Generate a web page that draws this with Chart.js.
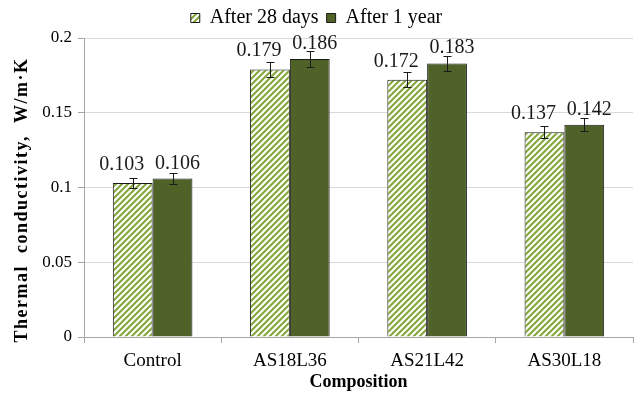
<!DOCTYPE html>
<html lang="en">
<head>
  <meta charset="UTF-8" />
  <title>Thermal conductivity</title>
  <style>
    * { box-sizing: border-box; margin: 0; padding: 0; }
    body { background: #fff; }
    #wrap { width: 636px; height: 395px; position: relative; }
  </style>
</head>
<body>
  <div id="wrap"><canvas id="tcChart"></canvas></div>

  <script src="https://cdn.jsdelivr.net/npm/chart.js"></script>
  <script>
    const categories = ['Control', 'AS18L36', 'AS21L42', 'AS30L18'];
    const after28 = [0.103, 0.179, 0.172, 0.137];
    const after1y = [0.106, 0.186, 0.183, 0.142];
    const err28 = [0.0035, 0.005, 0.005, 0.004];
    const err1y = [0.0035, 0.0055, 0.005, 0.0045];
    const yTitle = 'Thermal  conductivity,  W/m\u00b7K';

    const serif = "'Times New Roman', 'Liberation Serif', Times, serif";

    // light green diagonal hatch on white
    function hatch() {
      const c = document.createElement('canvas');
      c.width = 6; c.height = 6;
      const g = c.getContext('2d');
      g.fillStyle = '#fff';
      g.fillRect(0, 0, 6, 6);
      g.strokeStyle = '#86a93f';
      g.lineWidth = 2.2;
      g.beginPath();
      g.moveTo(-1, 7); g.lineTo(7, -1);
      g.moveTo(-4, 4); g.lineTo(4, -4);
      g.moveTo(2, 10); g.lineTo(10, 2);
      g.stroke();
      return g.createPattern(c, 'repeat');
    }

    const errBars = {
      id: 'errBars',
      afterDatasetsDraw(chart) {
        const ctx = chart.ctx;
        const y = chart.scales.y;
        const errs = [err28, err1y];
        ctx.save();
        ctx.strokeStyle = '#1a1a1a';
        ctx.lineWidth = 1;
        chart.data.datasets.forEach((ds, i) => {
          chart.getDatasetMeta(i).data.forEach((bar, j) => {
            const v = ds.data[j], e = errs[i][j];
            const t = Math.round(y.getPixelForValue(v + e)) + 0.5;
            const b = Math.round(y.getPixelForValue(v - e)) + 0.5;
            const x = Math.round(bar.x) + 0.5;
            ctx.beginPath();
            ctx.moveTo(x, t); ctx.lineTo(x, b);
            ctx.moveTo(x - 4, t); ctx.lineTo(x + 4, t);
            ctx.moveTo(x - 4, b); ctx.lineTo(x + 4, b);
            ctx.stroke();
          });
        });
        ctx.restore();
      }
    };

    const valueLabels = {
      id: 'valueLabels',
      afterDatasetsDraw(chart) {
        const ctx = chart.ctx;
        ctx.save();
        ctx.font = '20px ' + serif;
        ctx.fillStyle = '#1a1a1a';
        ctx.textAlign = 'center';
        ctx.textBaseline = 'alphabetic';
        chart.data.datasets.forEach((ds, i) => {
          chart.getDatasetMeta(i).data.forEach((bar, j) => {
            const dx = i === 0 ? -11 : 5;
            const dy = i === 0 ? 13 : 10;
            ctx.fillText(ds.data[j].toFixed(3), bar.x + dx, bar.y - dy);
          });
        });
        ctx.restore();
      }
    };

    const yAxisTitle = {
      id: 'yAxisTitle',
      afterDraw(chart) {
        const ctx = chart.ctx;
        ctx.save();
        ctx.translate(22, 200);
        ctx.rotate(-Math.PI / 2);
        ctx.font = 'bold 18px ' + serif;
        ctx.letterSpacing = '1.5px';
        ctx.fillStyle = '#000';
        ctx.textAlign = 'center';
        ctx.textBaseline = 'middle';
        ctx.fillText(yTitle, 0, 0);
        ctx.restore();
      }
    };

    const ctx = document.getElementById('tcChart').getContext('2d');
    const tcChart = new Chart(ctx, {
      type: 'bar',
      data: {
        labels: categories,
        datasets: [
          {
            label: 'After 28 days',
            data: after28,
            backgroundColor: hatch(),
            borderColor: '#1a1a1a',
            borderWidth: 1,
            barPercentage: 1,
            categoryPercentage: 0.58
          },
          {
            label: 'After 1 year',
            data: after1y,
            backgroundColor: '#4f6228',
            borderColor: '#1a1a1a',
            borderWidth: 1,
            barPercentage: 1,
            categoryPercentage: 0.58
          }
        ]
      },
      options: {
        responsive: true,
        maintainAspectRatio: false,
        animation: false,
        layout: { padding: { left: 0, right: 3, top: 0, bottom: 0 } },
        plugins: {
          tooltip: { enabled: false },
          legend: {
            position: 'top',
            labels: {
              font: { family: serif, size: 20 },
              color: '#000',
              boxWidth: 9,
              boxHeight: 9,
              padding: 8
            }
          }
        },
        scales: {
          x: {
            grid: { offset: true, drawOnChartArea: false, tickLength: 6, color: '#a6a6a6' },
            border: { color: '#a6a6a6' },
            ticks: { font: { family: serif, size: 19 }, color: '#000', padding: 7 },
            title: {
              display: true,
              text: 'Composition',
              font: { family: serif, size: 18, weight: 'bold' },
              color: '#000',
              padding: { top: 0, bottom: 2 }
            },
            afterFit: s => { s.height = 58; }
          },
          y: {
            min: 0,
            max: 0.2,
            ticks: {
              stepSize: 0.05,
              font: { family: serif, size: 17 },
              color: '#000',
              padding: 6,
              callback: v => String(+v.toFixed(2))
            },
            grid: { color: '#d9d9d9', tickColor: '#a6a6a6', tickLength: 6 },
            border: { color: '#a6a6a6' },
            afterFit: s => { s.width = 84; }
          }
        }
      },
      plugins: [errBars, valueLabels, yAxisTitle]
    });
  </script>
</body>
</html>
